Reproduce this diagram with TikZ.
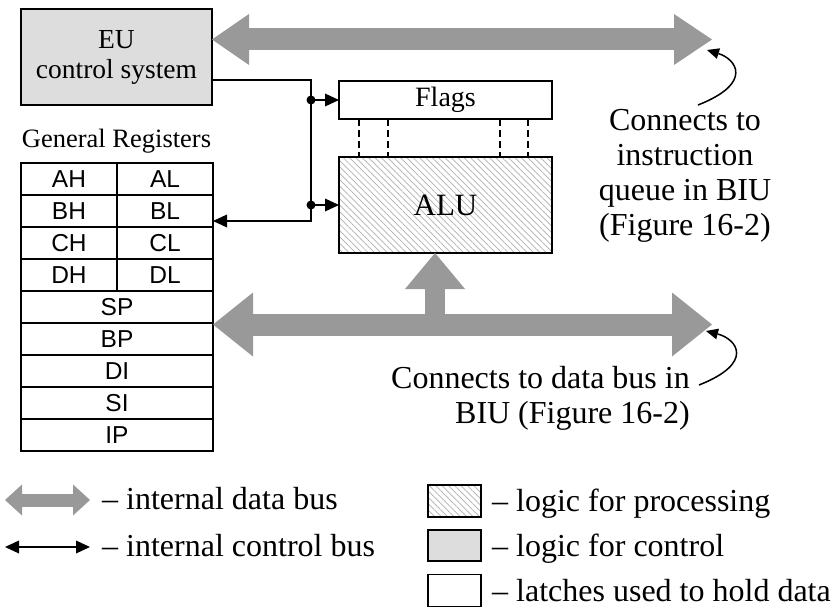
\documentclass[tikz,border=0pt]{standalone}
\usepackage{fontspec}
\setmainfont{Liberation Serif}
\newfontfamily\arialfont{Liberation Sans}
\usetikzlibrary{arrows.meta,patterns.meta,calc}
\definecolor{busgray}{HTML}{999999}
\definecolor{ctrlgray}{HTML}{DDDDDD}
\definecolor{hatchgray}{HTML}{B0B0B0}
\tikzset{
  ctip/.tip={Triangle[length=14pt,width=13pt,line width=0pt]},
}
\begin{document}
\begin{tikzpicture}[x=1pt,y=-1pt,
  box/.style={draw, line width=1.6pt, inner sep=0pt, outer sep=0pt},
  ctrlbox/.style={box, fill=ctrlgray},
  latchbox/.style={box, fill=white},
  procbox/.style={box, preaction={fill=white}, pattern={Lines[angle=-45,distance=4.5pt,line width=0.7pt]}, pattern color=hatchgray},
  regcell/.style={draw, line width=1.6pt, inner sep=0pt, outer sep=0pt, minimum height=32pt, font=\arialfont\fontsize{24.5}{28}\selectfont},
  half/.style={regcell, minimum width=96pt},
  full/.style={regcell, minimum width=192pt},
  ctrl/.style={line width=1.6pt},
  dot/.style={circle, fill=black, inner sep=0pt, minimum size=9pt},
  flagdash/.style={line width=1.5pt, dash pattern=on 7pt off 4pt},
  bus/.style={draw=busgray, color=busgray},
  annot/.style={line width=1.5pt, -{Triangle[length=12pt,width=11pt,line width=0pt]}},
  bigtext/.style={font=\fontsize{32}{35}\selectfont, inner sep=0pt},
]
\useasboundingbox[fill=white] (0,0) rectangle (839,610);

% EU control system
\node[ctrlbox, minimum width=191pt, minimum height=96pt, align=center,
      font=\fontsize{27.5}{30}\selectfont] (eu) at (116.5,57) {EU\\control system};

% Flags and ALU
\node[latchbox, minimum width=213pt, minimum height=38pt, font=\fontsize{28}{30}\selectfont] (flags) at (445.5,100) {Flags};
\node[procbox, minimum width=213pt, minimum height=96pt, font=\fontsize{31}{34}\selectfont] (alu) at (445.5,205) {ALU};
\foreach \xx in {359,388,500,528}
  \draw[flagdash] (flags.south -| \xx,0) -- (alu.north -| \xx,0);

% General registers
\node[font=\fontsize{26.5}{28}\selectfont, inner sep=0pt, anchor=base] (gr) at (116.5,147) {General Registers};
\node[half] (AH) at (69,179) {AH};
\node[half] (AL) at (165,179) {AL};
\node[half] (BH) at (69,211) {BH};
\node[half] (BL) at (165,211) {BL};
\node[half] (CH) at (69,243) {CH};
\node[half] (CL) at (165,243) {CL};
\node[half] (DH) at (69,275) {DH};
\node[half] (DL) at (165,275) {DL};
\node[full] (SP) at (117,307) {SP};
\node[full] (BP) at (117,339) {BP};
\node[full] (DI) at (117,371) {DI};
\node[full] (SI) at (117,403) {SI};
\node[full] (IP) at (117,435) {IP};

% internal control bus
\coordinate (c1) at (311,80);
\coordinate (c2) at (311,221);
\draw[ctrl, -{ctip}] (eu.east |- c1) -- (c1) -- (c2) -- (BL.east |- c2);
\node[dot] (d1) at (c1 |- flags.west) {};
\node[dot] (d2) at (c1 |- alu.west) {};
\draw[ctrl, -{ctip}] (d1.center) -- (flags.west);
\draw[ctrl, -{ctip}] (d2.center) -- (alu.west);

% top data bus
\coordinate (tb) at (712,39.5);
\draw[bus, line width=22pt,
  {Triangle[length=37pt,width=51pt,line width=0pt]}-{Triangle[length=38pt,width=51pt,line width=0pt]}]
  (eu.east |- tb) -- (tb);

% bottom data bus
\coordinate (bb) at (712,324.5);
\coordinate (bj) at (435,324.5);
\draw[bus, line width=22pt,
  {Triangle[length=40pt,width=64pt,line width=0pt]}-{Triangle[length=40pt,width=64pt,line width=0pt]}]
  (BP.east |- bb) -- (bb);
\draw[bus, line width=20pt, -{Triangle[length=36pt,width=60pt,line width=0pt]}]
  (bj) -- (alu.south -| bj);

% annotations
\node[bigtext, align=center, anchor=north] (conn1) at (685,109) {Connects to\\instruction\\queue in BIU\\(Figure 16-2)};
\coordinate (a1) at (698,105);
\coordinate (t1) at (707,50);
\draw[annot] (a1) .. controls ($(a1)+(56,-22)$) and ($(a1)+(38,-46)$) .. (t1);

\node[bigtext, align=right, anchor=north east] (conn2) at (690,366) {Connects to data bus in\\BIU (Figure 16-2)};
\coordinate (a2) at (699,385);
\coordinate (t2) at (706,331);
\draw[annot] (a2) .. controls ($(a2)+(56,-22)$) and ($(a2)+(38,-46)$) .. (t2);

% legend left
\coordinate (lb1) at (5,500);
\coordinate (lb2) at (90,500);
\draw[bus, line width=13pt,
  {Triangle[length=17pt,width=31pt,line width=0pt]}-{Triangle[length=17pt,width=31pt,line width=0pt]}]
  (lb1) -- (lb2);
\node[bigtext, anchor=base west] (ltxt1) at (102,509) {– internal data bus};
\coordinate (lc1) at (5,547);
\coordinate (lc2) at (90,547);
\draw[ctrl, {ctip}-{ctip}] (lc1) -- (lc2);
\node[bigtext, anchor=base west] (ltxt2) at (102,556) {– internal control bus};

% legend right
\node[procbox, minimum width=53pt, minimum height=32pt] (lg1) at (454.5,501) {};
\node[ctrlbox, minimum width=53pt, minimum height=31pt] (lg2) at (454.5,545.5) {};
\node[latchbox, minimum width=53pt, minimum height=32pt] (lg3) at (454.5,590.5) {};
\node[bigtext, anchor=base west] (rtxt1) at (492,511.5) {– logic for processing};
\node[bigtext, anchor=base west] (rtxt2) at (492,556) {– logic for control};
\node[bigtext, anchor=base west] (rtxt3) at (492,601) {– latches used to hold data};
\end{tikzpicture}
\end{document}
